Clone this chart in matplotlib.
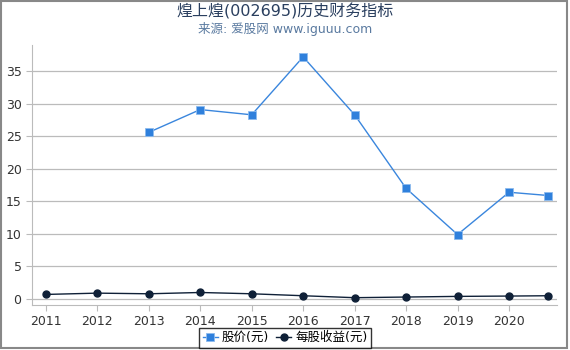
import matplotlib.pyplot as plt
from matplotlib.patches import Rectangle

plt.rcParams['font.family'] = ['DejaVu Sans', 'Noto Sans CJK SC']

price_x = [2013, 2014, 2015, 2016, 2017, 2018, 2019, 2020, 2020.76]
price = [25.6, 29.1, 28.3, 37.2, 28.3, 17.0, 9.9, 16.4, 15.9]
eps_x = [2011, 2012, 2013, 2014, 2015, 2016, 2017, 2018, 2019, 2020, 2020.76]
eps = [0.7, 0.9, 0.8, 1.0, 0.8, 0.5, 0.2, 0.3, 0.4, 0.45, 0.5]
years = list(range(2011, 2021))
yticks = [0, 5, 10, 15, 20, 25, 30, 35]

fig = plt.figure(figsize=(5.7, 3.5), dpi=100)
ax = fig.add_axes([0.056, 0.129, 0.921, 0.742])

ax.plot(price_x, price, color='#3a86dd', lw=1, marker='s', ms=6,
        mfc='#2f80dc', mec='#8dbbee', mew=0.6, label='股价(元)')
ax.plot(eps_x, eps, color='#0f2037', lw=1, marker='o', ms=5,
        label='每股收益(元)')

ax.set_xlim(2010.73, 2020.93)
ax.set_ylim(-0.9, 39)
ax.set_xticks(years)
ax.set_yticks(yticks)
ax.tick_params(labelsize=9, colors='#333333', length=4)
ax.tick_params(axis='x', color='#bbbbbb')
ax.tick_params(axis='y', color='#bbbbbb')
ax.grid(axis='y', color='#bbbbbb', lw=0.9)
ax.set_axisbelow(True)
for s in ['top', 'right']:
    ax.spines[s].set_visible(False)
ax.spines['left'].set_color('#bbbbbb')
ax.spines['bottom'].set_color('#bbbbbb')

fig.text(0.5, 0.968, '煌上煌(002695)历史财务指标', ha='center', va='center',
         fontsize=11.5, color='#2a3f5f')
fig.text(0.5, 0.918, '来源: 爱股网 www.iguuu.com', ha='center', va='center',
         fontsize=9, color='#5a7aa0')

leg = fig.legend(loc='center', bbox_to_anchor=(0.5, 0.035), ncol=2, fontsize=9,
                 frameon=True, fancybox=False, edgecolor='black',
                 handlelength=1.2, handletextpad=0.3, columnspacing=0.6,
                 borderpad=0.3)
leg.get_frame().set_linewidth(1)

fig.patches.append(Rectangle((0.001, 0.005), 0.993, 0.993, transform=fig.transFigure,
                             fill=False, edgecolor='#888888', lw=1.5))

fig.savefig('out.png', dpi=100)
